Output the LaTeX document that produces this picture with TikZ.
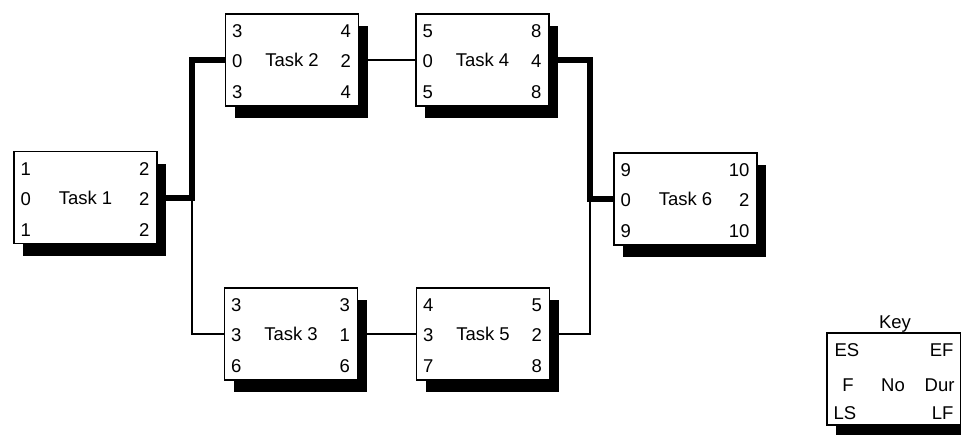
\documentclass[tikz,border=0pt]{standalone}
\usepackage{fontspec}
\setmainfont{Liberation Sans}
\usetikzlibrary{shadows,backgrounds}
\begin{document}
\begin{tikzpicture}[x=1pt,y=-1pt,
  lbl/.style={font=\fontsize{18.5}{20}\selectfont, inner sep=0pt, text height=13pt, text depth=0pt},
  task/.style={lbl, draw=black, line width=1.3pt, fill=white, minimum width=133pt, minimum height=92pt,
    drop shadow={shadow xshift=9pt, shadow yshift=-12pt, fill=black, opacity=1}},
  wide/.style={minimum width=143pt},
  thickline/.style={line width=6pt, line join=miter},
  thinline/.style={line width=1.3pt}]
\useasboundingbox (0,0) rectangle (961,434);
\clip (0,0) rectangle (961,434);

\coordinate (j1) at (192,197.5);
\coordinate (j2) at (590,199);

% task nodes
\node[task,wide] (t1) at (85.5,197.5) {Task 1};
\node[task] (t2) at (292,60) {Task 2};
\node[task] (t4) at (482.5,60) {Task 4};
\node[task] (t3) at (291,334) {Task 3};
\node[task] (t5) at (483,334) {Task 5};
\node[task,wide] (t6) at (685.5,199) {Task 6};

% connectors
\begin{scope}[on background layer]
\draw[thickline] (t1.east) -- (j1) |- (t2.west);
\draw[thinline] (j1) |- (t3.west);
\draw[thinline] (t2.east) -- (t4.west);
\draw[thinline] (t3.east) -- (t5.west);
\draw[thickline] (t4.east) -| (j2) -- (t6.west);
\draw[thinline] (t5.east) -| (j2);
\end{scope}

\newcommand{\tasknums}[7]{%
  \node[lbl,anchor=west] (#1es) at ([shift={(7,-29)}]#1.west) {#2};
  \node[lbl,anchor=east] (#1ef) at ([shift={(-8,-29)}]#1.east) {#3};
  \node[lbl,anchor=west] (#1f)  at ([shift={(7,1)}]#1.west) {#4};
  \node[lbl,anchor=east] (#1d)  at ([shift={(-8,1)}]#1.east) {#5};
  \node[lbl,anchor=west] (#1ls) at ([shift={(7,32)}]#1.west) {#6};
  \node[lbl,anchor=east] (#1lf) at ([shift={(-8,32)}]#1.east) {#7};}
\tasknums{t1}{1}{2}{0}{2}{1}{2}
\tasknums{t2}{3}{4}{0}{2}{3}{4}
\tasknums{t4}{5}{8}{0}{4}{5}{8}
\tasknums{t3}{3}{3}{3}{1}{6}{6}
\tasknums{t5}{4}{5}{3}{2}{7}{8}
\tasknums{t6}{9}{10}{0}{2}{9}{10}

% key
\node[task, minimum width=134pt] (key) at (894,379) {};
\node[lbl] (keytitle) at (895,322) {Key};
\node[lbl,anchor=west] (kes) at ([shift={(8,-29)}]key.west) {ES};
\node[lbl,anchor=east] (kef) at ([shift={(-8,-29)}]key.east) {EF};
\node[lbl] (kf) at (848,385) {F};
\node[lbl] (kno) at (893,385) {No};
\node[lbl,anchor=east] (kdur) at ([shift={(-7,6)}]key.east) {Dur};
\node[lbl,anchor=west] (kls) at ([shift={(7,34)}]key.west) {LS};
\node[lbl,anchor=east] (klf) at ([shift={(-8,34)}]key.east) {LF};
\end{tikzpicture}
\end{document}
